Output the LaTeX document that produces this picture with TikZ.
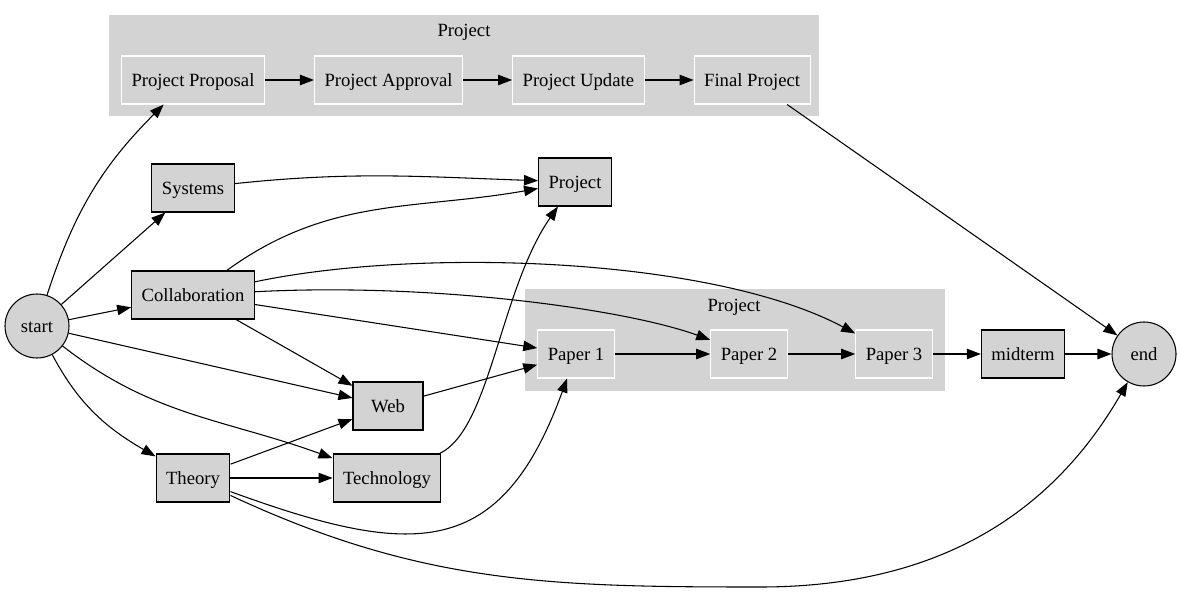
\documentclass[tikz,border=0pt]{standalone}
\usepackage{fontspec}
\setmainfont{Liberation Serif}
\usepackage{tikz}
\usetikzlibrary{arrows.meta, positioning}
\definecolor{colorBox}{HTML}{D3D3D3}
\tikzset{
  task/.style={draw, fill=colorBox, line width=0.8pt, minimum height=36pt, minimum width=52.5pt, inner xsep=7.5pt, text height=9.5pt, text depth=0pt, font=\fontsize{14}{16}\selectfont},
  subtask/.style={task, draw=white},
  terminal/.style={circle, draw, fill=colorBox, line width=0.8pt, minimum size=48pt, inner sep=0pt, text height=9.5pt, text depth=0pt, font=\fontsize{14}{16}\selectfont},
  cluster/.style={fill=colorBox, draw=colorBox, inner sep=0pt},
  clusterlabel/.style={inner sep=0pt, font=\fontsize{14}{16}\selectfont}
}

\begin{document}
\begin{tikzpicture}[x=0.75pt, y=-0.75pt, >={Triangle[length=10.5pt,width=7.8pt]}, line width=0.8pt, node distance=36.75pt]
\useasboundingbox (0,0) rectangle (1180,595);
\node[cluster, minimum width=531pt, minimum height=74.25pt] (topcl) at (464,65.5) {};
\node[clusterlabel] (toplbl) at (464,32.5) {Project};
\node[cluster, minimum width=313.5pt, minimum height=75pt] (papcl) at (735,340) {};
\node[clusterlabel] (paplbl) at (734,307.5) {Project};
\node[subtask] (pprop) at (193,80) {Project Proposal};
\node[subtask, right=of pprop] (pappr) {Project Approval};
\node[subtask, right=of pappr] (pupd) {Project Update};
\node[subtask, right=of pupd] (pfinal) {Final Project};
\node[terminal] (start) at (37,326) {start};
\node[task] (sys) at (193,188) {Systems};
\node[task] (collab) at (193,295) {Collaboration};
\node[task] (theory) at (193,478) {Theory};
\node[task] (web) at (388,406) {Web};
\node[task] (tech) at (387,478) {Technology};
\node[task] (proj) at (575,182) {Project};
\node[subtask] (pap1) at (576,354) {Paper 1};
\node[subtask] (pap2) at (749,354) {Paper 2};
\node[subtask] (pap3) at (894,354) {Paper 3};
\node[task] (mid) at (1023,354) {midterm};
\node[terminal] (stop) at (1144,354) {end};
\coordinate (lowbend) at (760,587);
\draw[->] (pprop) -- (pappr);
\draw[->] (pappr) -- (pupd);
\draw[->] (pupd) -- (pfinal);
\draw[->] (pfinal) -- (stop);
\draw[->] (start) to[out=72, in=225] ([xshift=-22pt]pprop.south);
\draw[->] (start) -- (sys);
\draw[->] (start) -- (collab);
\draw[->] (start) -- (web);
\draw[->] (start) to[out=-38, in=160] (tech);
\draw[->] (start) to[out=-62, in=150] (theory);
\draw[->] (sys) to[out=6, in=178] (proj);
\draw[->] (collab) to[out=36, in=190] (proj);
\draw[->] (collab) to[out=12, in=152, looseness=0.7] (pap3);
\draw[->] (collab) to[out=3, in=160, out looseness=1, in looseness=0.5] (pap2);
\draw[->] (collab) -- (pap1);
\draw[->] (collab) -- (web);
\draw[->] (web) -- (pap1);
\draw[->] (theory) -- (web);
\draw[->] (theory) -- (tech);
\draw[->] (theory) to[out=-20, in=250, looseness=1.4] (pap1);
\draw[->] (theory) to[out=-25, in=180] (lowbend) to[out=0, in=240] (stop);
\draw[->] (tech) .. controls (490,430) and (500,290) .. (proj);
\draw[->] (pap1) -- (pap2);
\draw[->] (pap2) -- (pap3);
\draw[->] (pap3) -- (mid);
\draw[->] (mid) -- (stop);
\end{tikzpicture}
\end{document}
